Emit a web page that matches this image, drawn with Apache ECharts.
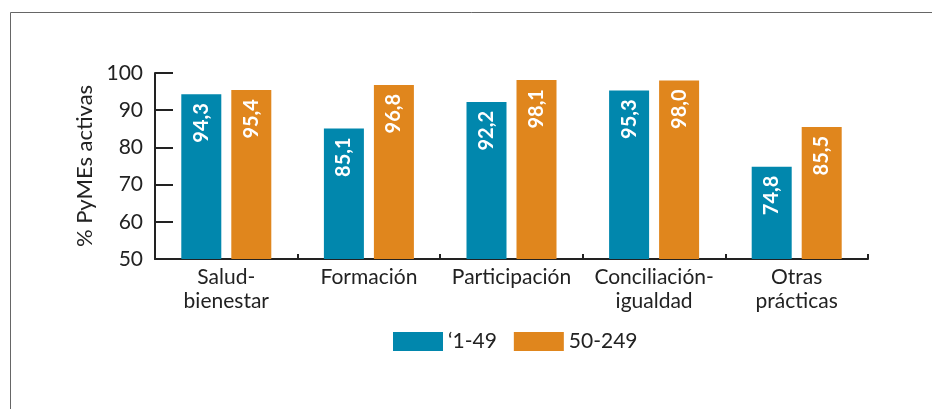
<!DOCTYPE html>
<html>
<head>
<meta charset="utf-8">
<script src="https://cdn.jsdelivr.net/npm/echarts@6/dist/echarts.min.js"></script>
<style>
  html, body { margin: 0; padding: 0; background: #fff; }
  #chart { width: 932px; height: 409px; }
</style>
</head>
<body>
<div id="chart"></div>
<script>
// data
var categories = ['Salud-\nbienestar', 'Formación', 'Participación', 'Conciliación-\nigualdad', 'Otras\nprácticas'];
var seriesNames = ['\u20181-49', '50-249'];
var small = [94.3, 85.1, 92.2, 95.3, 74.8];
var medium = [95.4, 96.8, 98.1, 98.0, 85.5];
var yTicks = [50, 60, 70, 80, 90, 100];

var font = 'Lato';
var colors = ['#0187AD', '#E0861D'];

var chartDom = document.getElementById('chart');
var chart = echarts.init(chartDom);

var barLabel = {
  show: true,
  position: 'insideTop',
  rotate: 90,
  align: 'right',
  verticalAlign: 'middle',
  distance: 9,
  color: '#fff',
  fontFamily: font,
  fontWeight: 'bold',
  fontSize: 20,
  formatter: function (p) {
    return p.value.toFixed(1).replace('.', ',');
  }
};

var option = {
  animation: false,
  textStyle: { fontFamily: font },
  graphic: [
    {
      type: 'rect',
      shape: { x: 10.5, y: 12.5, width: 1000, height: 500 },
      style: { fill: 'none', stroke: '#666', lineWidth: 1 },
      silent: true
    }
  ],
  grid: {
    left: 155,
    right: 64,
    top: 73,
    bottom: 150
  },
  legend: {
    left: 393,
    top: 331,
    padding: 0,
    itemWidth: 50,
    itemHeight: 19,
    itemGap: 17,
    icon: 'rect',
    data: seriesNames,
    textStyle: { fontFamily: font, fontSize: 21, color: '#222' }
  },
  xAxis: {
    type: 'category',
    data: categories,
    axisLine: { lineStyle: { color: '#222', width: 2 } },
    axisTick: { show: true, inside: true, length: 5, lineStyle: { color: '#222', width: 2 } },
    axisLabel: {
      interval: 0,
      hideOverlap: false,
      fontFamily: font,
      fontSize: 21,
      color: '#222',
      lineHeight: 24,
      margin: 6
    }
  },
  yAxis: {
    type: 'value',
    min: yTicks[0],
    max: yTicks[yTicks.length - 1],
    interval: 10,
    name: '% PyMEs activas',
    nameLocation: 'middle',
    nameGap: 58,
    nameTextStyle: { fontFamily: font, fontSize: 22, color: '#222' },
    axisLine: { show: true, lineStyle: { color: '#222', width: 2 } },
    axisTick: { show: true, inside: true, length: 18, lineStyle: { color: '#222', width: 2 } },
    axisLabel: { fontFamily: font, fontSize: 21, color: '#222', margin: 12 },
    splitLine: { show: false }
  },
  series: [
    {
      name: seriesNames[0],
      type: 'bar',
      data: small,
      barWidth: 40,
      barGap: '25%',
      itemStyle: { color: colors[0] },
      label: barLabel
    },
    {
      name: seriesNames[1],
      type: 'bar',
      data: medium,
      barWidth: 40,
      itemStyle: { color: colors[1] },
      label: barLabel
    }
  ]
};

chart.setOption(option);
</script>
</body>
</html>
